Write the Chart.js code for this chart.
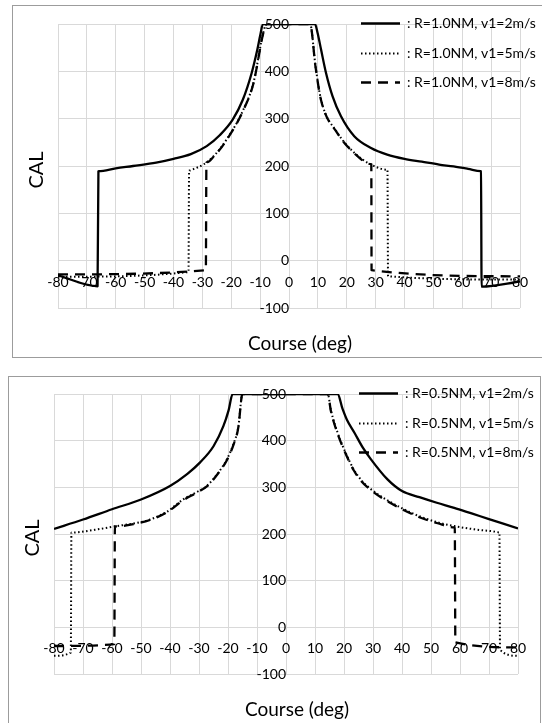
<!DOCTYPE html>
<html>
<head>
<meta charset="utf-8">
<script src="https://cdn.jsdelivr.net/npm/chart.js@4.4.1/dist/chart.umd.min.js"></script>
<style>
  html, body { margin: 0; padding: 0; background: #ffffff; width: 542px; height: 723px; overflow: hidden; }
  .box { position: absolute; box-sizing: border-box; border: 1px solid #9c9c9c; background: #ffffff; overflow: hidden; }
  #box1 { left: 12px; top: 5px; width: 531px; height: 353px; }
  #box2 { left: 8px; top: 376px; width: 533px; height: 348px; }
  canvas { display: block; }
</style>
</head>
<body>
<div class="box" id="box1"><canvas id="c1" width="529" height="351"></canvas></div>
<div class="box" id="box2"><canvas id="c2" width="531" height="346"></canvas></div>
<script>
// ---------------- DATA ----------------
const xTitle = 'Course (deg)';
const yTitle = 'CAL';

// Top chart: R = 1.0 NM
const top_labels = ['R=1.0NM, v1=2m/s', 'R=1.0NM, v1=5m/s', 'R=1.0NM, v1=8m/s'];
const top_v2_x = [-80, -66.3, -66, -65.9, -60, -54, -46, -40, -34, -28.5, -24, -19.5, -16, -13, -11, -10, -9, 9, 9.9, 11.1, 12.8, 15.1, 18, 22.6, 28.4, 34, 40, 46, 52, 57, 62, 66.4, 66.5, 66.7, 80];
const top_v2_y = [-31, -54, 189, 189.2, 195, 200, 207, 215, 225, 242, 265, 298, 340, 395, 445, 475, 500, 500, 481, 446, 397, 347, 305, 263, 238, 224, 215, 209, 203, 199, 194, 189.2, 189, -55, -44];
const top_v5_x = [-80, -34.8, -34.6, -34.5, -33.7, -29.7, -26.2, -21.6, -15.8, -12.3, -8.9, -7.8, 7.3, 9.2, 11.1, 16.8, 22.6, 28.4, 34, 34.1, 34.3, 80];
const top_v5_y = [-34, -24, 190, 190.3, 192, 203, 220, 256, 319, 376, 482, 500, 500, 410, 340, 270, 228, 203, 192.2, 192, -33, -40];
const top_v8_x = [-80, -28.8, -28.6, -28.5, -26.2, -21.6, -15.8, -12.3, -8.9, -7.8, 7.3, 9.2, 11.1, 16.8, 22.6, 28.4, 28.5, 28.6, 80];
const top_v8_y = [-29, -20, 207, 207.4, 219, 255, 318, 375, 481, 500, 500, 409, 339, 269, 227, 204, 203.7, -20, -33];

// Bottom chart: R = 0.5 NM
const bot_labels = ['R=0.5NM, v1=2m/s', 'R=0.5NM, v1=5m/s', 'R=0.5NM, v1=8m/s'];
const bot_v2_x = [-80, -70, -60, -50, -40, -34, -29.7, -25, -21.6, -19.8, -18.4, 17.8, 19.5, 21, 23.6, 26.5, 29.3, 35, 40, 46, 52, 58, 64, 70, 80];
const bot_v2_y = [211, 231, 253, 274, 303, 329, 353, 388, 431, 465, 500, 500, 468, 445, 417, 385, 360, 317, 292, 279, 267, 256, 244, 232, 212];
const bot_v5_x = [-80, -74.2, -74, -73.9, -66, -58.4, -52, -46.9, -41, -35.5, -31, -27.3, -23.5, -20.4, -18, -16.4, -15.3, -15, 14.4, 15.5, 17.8, 20.5, 23.4, 26, 29.3, 35, 40.7, 46, 52.3, 58, 65, 73, 73.5, 73.6, 73.8, 80];
const bot_v5_y = [-61, -54, 203, 203.1, 209, 217, 223, 231, 248, 274, 289, 303, 330, 360, 395, 431, 495, 500, 500, 465, 417, 375, 338, 315, 296, 272, 253, 238, 225, 217, 210, 204, 203.1, 203, -48, -61];
const bot_v8_x = [-80, -59.2, -59, -58.9, -52, -46.9, -41, -35.5, -31, -27.3, -23.5, -20.4, -18, -16.4, -15.3, -15, 14.4, 15.5, 17.8, 20.5, 23.4, 26, 29.3, 35, 40.7, 46, 52.3, 58.1, 58.2, 58.4, 80];
const bot_v8_y = [-40, -36, 216, 216.1, 222, 230, 247, 272, 288, 302, 329, 358, 393, 430, 494, 500, 500, 463, 415, 373, 336, 313, 294, 270, 251, 236, 223, 214.1, 214, -32, -43];

// Axis ranges / ticks
const xMin = -80, xMax = 80, xStep = 10;
const yMin = -100, yMax = 500, yStep = 100;

// ---------------- STYLE ----------------
const FONT = 'Lato, "Open Sans", "Liberation Sans", sans-serif';
const TEXT = '#000000';
const GRID = '#d9d9d9';
const seriesStyles = [
  { borderWidth: 2.3, borderDash: [] },
  { borderWidth: 2, borderDash: [1.5, 2.5] },
  { borderWidth: 2.3, borderDash: [10, 7] }
];

function pts(xs, ys) { return xs.map((x, i) => ({ x: x, y: ys[i] })); }

// legend rows and axis titles, placed relative to the plot area
const overlayPlugin = {
  id: 'overlay',
  afterDraw(chart, args, o) {
    const { ctx, chartArea } = chart;
    ctx.save();
    chart.data.datasets.forEach((ds, i) => {
      const y = Math.round(chartArea.top + o.legendDy + i * o.legendRow) + 0.5;
      const x0 = chartArea.right + o.legendDx;
      ctx.beginPath();
      ctx.setLineDash(ds.borderDash || []);
      ctx.lineWidth = ds.borderWidth;
      ctx.strokeStyle = ds.borderColor;
      ctx.lineCap = 'butt';
      ctx.moveTo(x0, y);
      ctx.lineTo(x0 + o.legendLine, y);
      ctx.stroke();
      ctx.setLineDash([]);
      ctx.fillStyle = TEXT;
      ctx.font = o.legendFont + 'px ' + FONT;
      ctx.textAlign = 'left';
      ctx.textBaseline = 'middle';
      ctx.fillText(': ' + ds.label, x0 + o.legendLine + o.legendGap, y);
    });
    ctx.fillStyle = TEXT;
    ctx.font = o.xTitleFont + 'px ' + FONT;
    ctx.textAlign = 'center';
    ctx.textBaseline = 'middle';
    ctx.fillText(xTitle, (chartArea.left + chartArea.right) / 2 + o.xTitleDx, chartArea.bottom + o.xTitleDy);
    ctx.save();
    ctx.translate(chartArea.left + o.yTitleDx, (chartArea.top + chartArea.bottom) / 2 + o.yTitleDy);
    ctx.rotate(-Math.PI / 2);
    ctx.font = o.yTitleFont + 'px ' + FONT;
    ctx.fillText(yTitle, 0, 0);
    ctx.restore();
    ctx.restore();
  }
};

function noPad(scale) {
  scale.paddingTop = 0; scale.paddingBottom = 0;
  scale.paddingLeft = 0; scale.paddingRight = 0;
}

function makeChart(id, labels, series, area) {
  const canvas = document.getElementById(id);
  const padding = { left: area.left, top: area.top, right: canvas.width - area.right, bottom: canvas.height - area.bottom };
  const datasets = series.map((s, i) => ({
    label: labels[i], data: s, showLine: true, fill: false,
    borderColor: '#000000', backgroundColor: '#000000',
    borderWidth: seriesStyles[i].borderWidth, borderDash: seriesStyles[i].borderDash,
    borderCapStyle: 'butt', borderJoinStyle: 'round',
    pointRadius: 0, pointHoverRadius: 0, cubicInterpolationMode: 'monotone'
  }));
  const chart = new Chart(canvas, {
    type: 'scatter',
    data: { datasets: datasets },
    plugins: [overlayPlugin],
    options: {
      responsive: false, animation: false, events: [],
      layout: { padding: padding, autoPadding: false },
      plugins: {
        legend: { display: false }, tooltip: { enabled: false }, title: { display: false },
        overlay: {
          legendDx: -159, legendDy: -1, legendRow: 29.7, legendLine: 39, legendGap: 7, legendFont: 14,
          xTitleDx: 11, xTitleDy: 36, xTitleFont: 19,
          yTitleDx: -21, yTitleDy: 4, yTitleFont: 20
        }
      },
      scales: {
        x: { type: 'linear', min: xMin, max: xMax, position: { y: 0 }, afterFit: noPad,
          grid: { color: GRID, lineWidth: 1, drawTicks: false }, border: { display: false },
          ticks: { stepSize: xStep, autoSkip: false, maxRotation: 0, padding: 13, color: TEXT, font: { family: FONT, size: 14 } } },
        y: { type: 'linear', min: yMin, max: yMax, position: { x: 0 }, afterFit: noPad,
          grid: { color: GRID, lineWidth: 1, drawTicks: false }, border: { display: false },
          ticks: { stepSize: yStep, autoSkip: false, padding: 14, color: TEXT, font: { family: FONT, size: 14 } } }
      }
    }
  });
  return chart;
}

// plot areas in canvas coordinates
makeChart('c1', top_labels,
  [pts(top_v2_x, top_v2_y), pts(top_v5_x, top_v5_y), pts(top_v8_x, top_v8_y)],
  { left: 45, top: 18, right: 507, bottom: 302 });
makeChart('c2', bot_labels,
  [pts(bot_v2_x, bot_v2_y), pts(bot_v5_x, bot_v5_y), pts(bot_v8_x, bot_v8_y)],
  { left: 45, top: 17, right: 509, bottom: 297 });
</script>
</body>
</html>
